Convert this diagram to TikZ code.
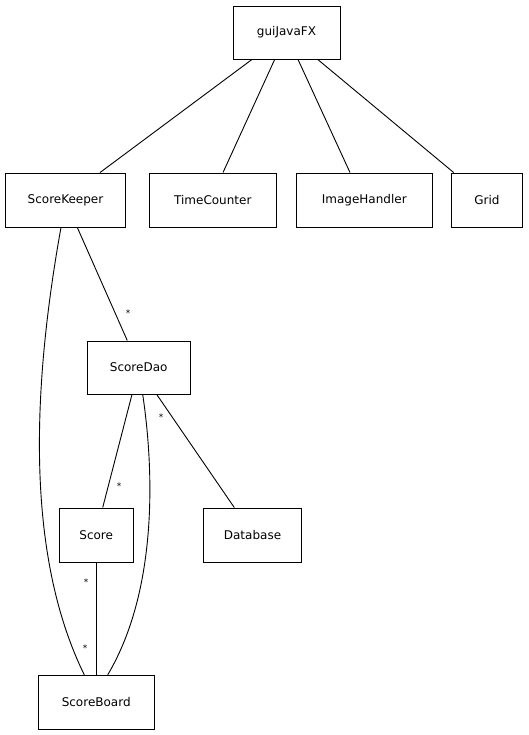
\documentclass[tikz,border=0pt]{standalone}
\usepackage{fontspec}
\setmainfont{DejaVu Sans}
\begin{document}
\begin{tikzpicture}[x=1pt,y=-1pt,
  cls/.style={draw=black,line width=0.9pt,fill=white,inner sep=0pt,
    font=\fontsize{12}{14}\selectfont},
  link/.style={draw=black,line width=0.9pt},
  mult/.style={inner sep=0pt,font=\fontsize{9}{10}\selectfont}]
\useasboundingbox (0,0) rectangle (529,735);

% classes
\node[cls,minimum width=107pt,minimum height=53pt] (gui) at (286.5,32.5) {guiJavaFX};
\node[cls,minimum width=120.5pt,minimum height=54pt] (keeper) at (65.5,200) {ScoreKeeper};
\node[cls,minimum width=127pt,minimum height=54pt] (timer) at (212.8,200) {TimeCounter};
\node[cls,minimum width=136.7pt,minimum height=54pt] (images) at (364.3,200) {ImageHandler};
\node[cls,minimum width=71.4pt,minimum height=54pt] (grid) at (487,200) {Grid};
\node[cls,minimum width=102.7pt,minimum height=53pt] (dao) at (138.7,367.5) {ScoreDao};
\node[cls,minimum width=73.7pt,minimum height=54pt] (score) at (96.2,535) {Score};
\node[cls,minimum width=97.6pt,minimum height=54pt] (db) at (252.5,535) {Database};
\node[cls,minimum width=115.7pt,minimum height=54pt] (board) at (96.2,702.3) {ScoreBoard};

% associations from the GUI
\draw[link] ([xshift=-34.5pt]gui.south) -- ([xshift=34.5pt]keeper.north);
\draw[link] ([xshift=-11.8pt]gui.south) -- ([xshift=10.2pt]timer.north);
\draw[link] ([xshift=11.5pt]gui.south) -- ([xshift=-14.3pt]images.north);
\draw[link] ([xshift=31.2pt]gui.south) -- ([xshift=-33.3pt]grid.north);

% score handling
\draw[link] ([xshift=11.8pt]keeper.south) -- ([xshift=-11.4pt]dao.north);
\draw[link] ([xshift=-4.5pt]keeper.south) .. controls (30,400) and (28,560) .. ([xshift=-11.9pt]board.north);
\draw[link] ([xshift=-6.7pt]dao.south) -- ([xshift=6.5pt]score.north);
\draw[link] ([xshift=4pt]dao.south) .. controls (154,470) and (158,590) .. ([xshift=11.5pt]board.north);
\draw[link] ([xshift=18pt]dao.south) -- ([xshift=-18.2pt]db.north);
\draw[link] (score.south) -- (board.north);

% multiplicities
\node[mult] (m1) at (128,313) {*};
\node[mult] (m2) at (161,417) {*};
\node[mult] (m3) at (119,486) {*};
\node[mult] (m4) at (86,582) {*};
\node[mult] (m5) at (85,648) {*};
\end{tikzpicture}
\end{document}
